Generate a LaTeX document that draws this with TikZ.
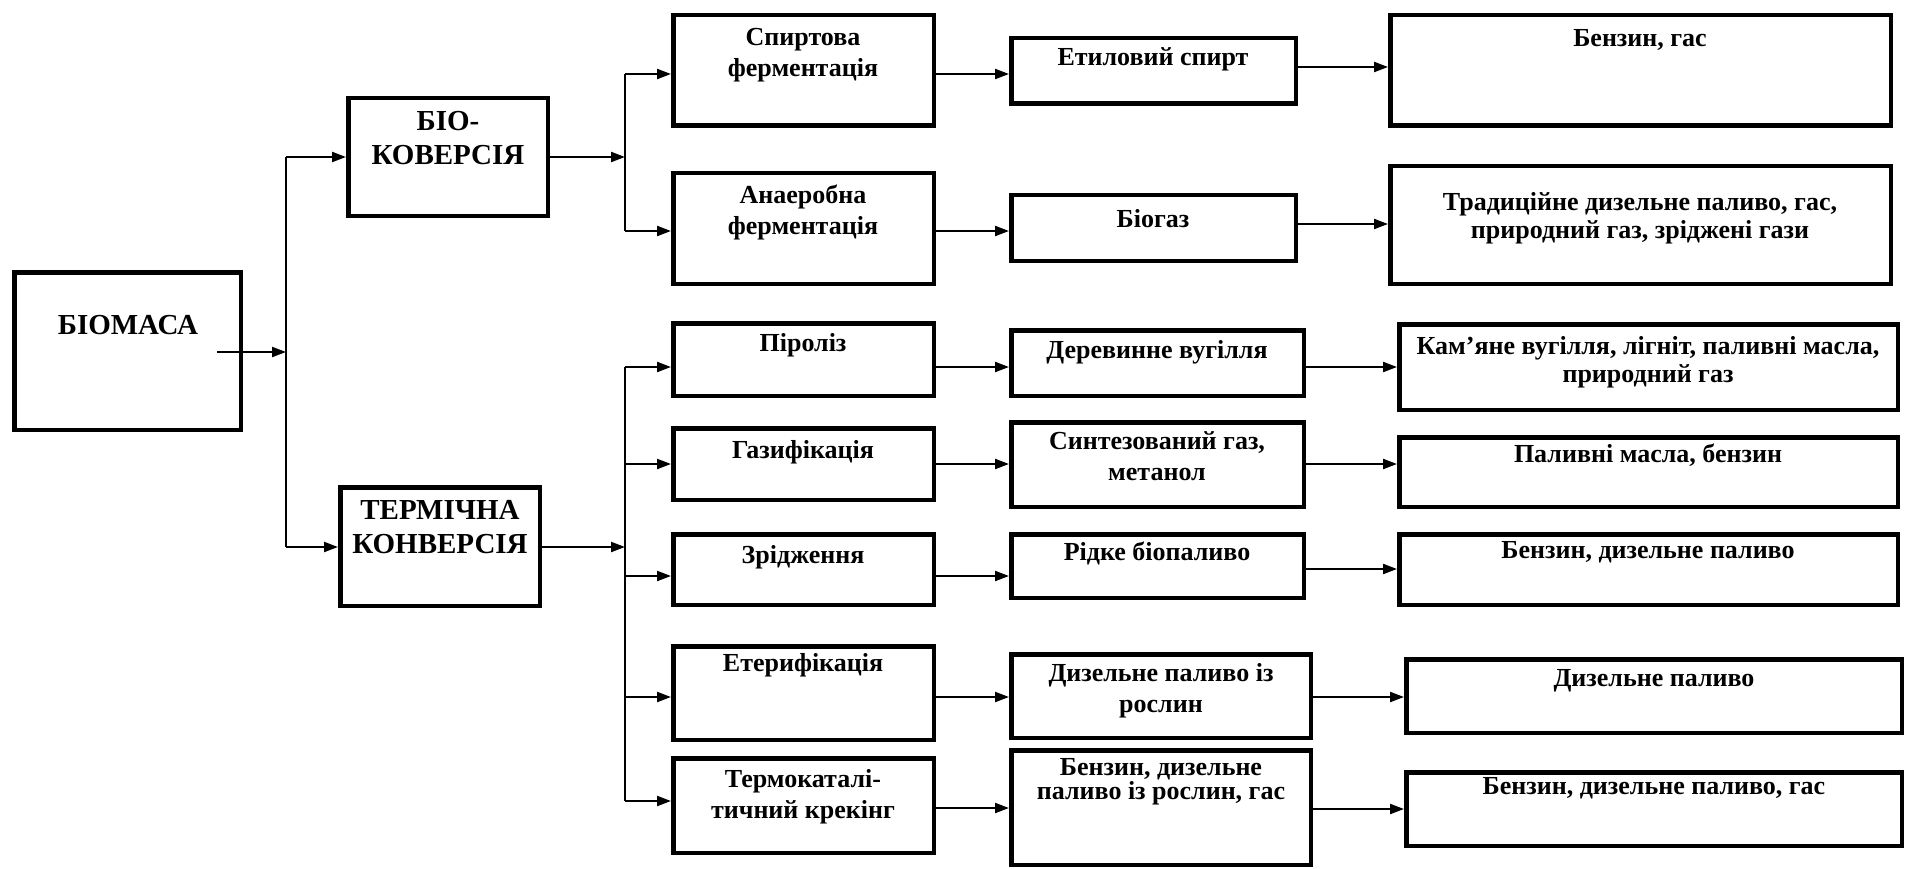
\documentclass[tikz,border=0pt]{standalone}
\usepackage{fontspec}
\setmainfont{Liberation Serif}
\usetikzlibrary{arrows.meta}
\newcommand\mkbox[5]{%
  \node[box, minimum width={(#4-#2-4.5)*1pt}, minimum height={(#5-#3-4.5)*1pt}] (#1) at ({(#2+#4)/2},{(#3+#5)/2}) {};}
\begin{document}
\begin{tikzpicture}[x=1pt,y=-1pt,
  box/.style={draw, line width=4.5pt, inner sep=0pt, rectangle},
  lbl/.style={align=center, inner sep=0pt, yshift=-2.5pt, font=\fontsize{26}{31}\selectfont\bfseries},
  ttl/.style={align=center, inner sep=0pt, font=\fontsize{29}{34}\selectfont\bfseries},
  ln/.style={line width=2.2pt},
  arr/.style={line width=2.2pt, -{Triangle[length=14pt,width=10pt]}}]
\useasboundingbox (0,0) rectangle (1905,869);
% boxes
\mkbox{biom}{12}{270}{243}{432}
\mkbox{bio}{346}{96}{550}{218}
\mkbox{therm}{338}{485}{542}{608}
\mkbox{spirt}{671}{13}{936}{128}
\mkbox{anaer}{671}{171}{936}{286}
\mkbox{etyl}{1009}{36}{1298}{106}
\mkbox{biogas}{1009}{193}{1298}{263}
\mkbox{benzgas}{1388}{13}{1893}{128}
\mkbox{trad}{1388}{164}{1893}{286}
\mkbox{pirol}{671}{321}{936}{398}
\mkbox{derev}{1009}{328}{1306}{398}
\mkbox{kam}{1397}{322}{1900}{412}
\mkbox{gaz}{671}{426}{936}{502}
\mkbox{synth}{1009}{420}{1306}{509}
\mkbox{palyv}{1397}{435}{1900}{509}
\mkbox{zrid}{671}{532}{936}{607}
\mkbox{ridke}{1009}{532}{1306}{600}
\mkbox{benzdyz}{1397}{532}{1900}{607}
\mkbox{eter}{671}{644}{936}{742}
\mkbox{dyzrosl}{1009}{652}{1313}{740}
\mkbox{dyzpal}{1404}{657}{1904}{735}
\mkbox{termo}{671}{756}{936}{855}
\mkbox{bdr}{1009}{748}{1313}{867}
\mkbox{bdg}{1404}{770}{1904}{848}
% texts
\node[ttl] (t-biom) at (128,325) {БІОМАСА};
\node[ttl] (t-bio) at (448,138) {БІО-\\КОВЕРСІЯ};
\node[ttl] (t-therm) at (440,527) {ТЕРМІЧНА\\КОНВЕРСІЯ};
\node[lbl] (t-spirt) at (803,53) {Спиртова\\ферментація};
\node[lbl] (t-anaer) at (803,210) {Анаеробна\\ферментація};
\node[lbl] (t-etyl) at (1153,57) {Етиловий спирт};
\node[lbl] (t-biogas) at (1153,216) {Біогаз};
\node[lbl] (t-benzgas) at (1640,38) {Бензин, гас};
\node[lbl, font=\fontsize{26}{28}\selectfont\bfseries] (t-trad) at (1640,216) {Традиційне дизельне паливо, гас,\\природний газ, зріджені гази};
\node[lbl] (t-pirol) at (803,343) {Піроліз};
\node[lbl] (t-derev) at (1157,350) {Деревинне вугілля};
\node[lbl, font=\fontsize{26}{28}\selectfont\bfseries] (t-kam) at (1648,360) {Кам’яне вугілля, лігніт, паливні масла,\\природний газ};
\node[lbl] (t-gaz) at (803,450) {Газифікація};
\node[lbl] (t-synth) at (1157,454) {Синтезований газ,\\метанол};
\node[lbl] (t-palyv) at (1648,453) {Паливні масла, бензин};
\node[lbl] (t-zrid) at (803,555) {Зрідження};
\node[lbl] (t-ridke) at (1157,551) {Рідке біопаливо};
\node[lbl] (t-benzdyz) at (1648,550) {Бензин, дизельне паливо};
\node[lbl] (t-eter) at (803,663) {Етерифікація};
\node[lbl] (t-dyzrosl) at (1161,688) {Дизельне паливо із\\рослин};
\node[lbl] (t-dyzpal) at (1654,678) {Дизельне паливо};
\node[lbl] (t-termo) at (803,794) {Термокаталі-\\тичний крекінг};
\node[lbl, font=\fontsize{26}{24}\selectfont\bfseries] (t-bdr) at (1161,779) {Бензин, дизельне\\паливо із рослин, гас};
\node[lbl] (t-bdg) at (1654,786) {Бензин, дизельне паливо, гас};
% junctions
\coordinate (bstart) at (217,352);
\coordinate (trunk) at (286,352);
\coordinate (j1) at (625,157);
\coordinate (j2) at (625,547);
% connectors
\draw[arr] (bstart) -- (trunk);
\draw[ln] (trunk |- bio.west) -- (trunk |- 0,547);
\draw[arr] (trunk |- bio.west) -- (bio.west);
\draw[arr] (trunk |- 0,547) -- (therm.west |- 0,547);
\draw[arr] (bio.east |- j1) -- (j1);
\draw[ln] (j1 |- 0,74) -- (j1 |- 0,231);
\draw[arr] (j1 |- 0,74) -- (spirt.west |- 0,74);
\draw[arr] (j1 |- 0,231) -- (anaer.west |- 0,231);
\draw[arr] (therm.east |- j2) -- (j2);
\draw[ln] (j2 |- 0,367) -- (j2 |- 0,801);
\draw[arr] (j2 |- 0,367) -- (pirol.west |- 0,367);
\draw[arr] (j2 |- 0,464) -- (gaz.west |- 0,464);
\draw[arr] (j2 |- 0,576) -- (zrid.west |- 0,576);
\draw[arr] (j2 |- 0,697) -- (eter.west |- 0,697);
\draw[arr] (j2 |- 0,801) -- (termo.west |- 0,801);
\draw[arr] (spirt.east |- 0,74) -- (etyl.west |- 0,74);
\draw[arr] (etyl.east |- 0,67) -- (benzgas.west |- 0,67);
\draw[arr] (anaer.east |- 0,231) -- (biogas.west |- 0,231);
\draw[arr] (biogas.east |- 0,224) -- (trad.west |- 0,224);
\draw[arr] (pirol.east |- 0,367) -- (derev.west |- 0,367);
\draw[arr] (derev.east |- 0,367) -- (kam.west |- 0,367);
\draw[arr] (gaz.east |- 0,464) -- (synth.west |- 0,464);
\draw[arr] (synth.east |- 0,464) -- (palyv.west |- 0,464);
\draw[arr] (zrid.east |- 0,576) -- (ridke.west |- 0,576);
\draw[arr] (ridke.east |- 0,569) -- (benzdyz.west |- 0,569);
\draw[arr] (eter.east |- 0,697) -- (dyzrosl.west |- 0,697);
\draw[arr] (dyzrosl.east |- 0,697) -- (dyzpal.west |- 0,697);
\draw[arr] (termo.east |- 0,808) -- (bdr.west |- 0,808);
\draw[arr] (bdr.east |- 0,809) -- (bdg.west |- 0,809);
\end{tikzpicture}
\end{document}
